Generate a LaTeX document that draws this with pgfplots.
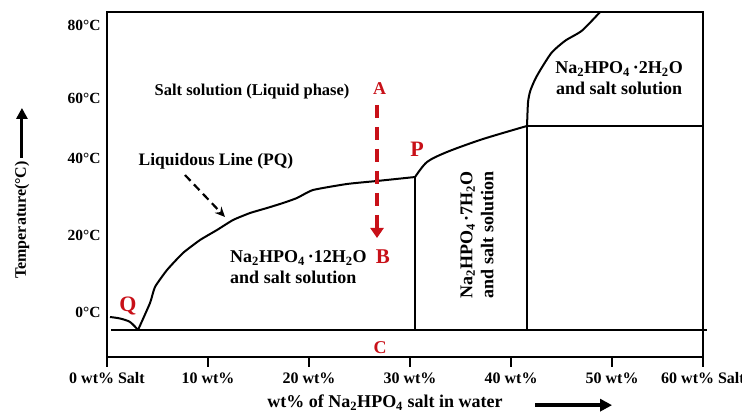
\documentclass[border=0pt]{standalone}
\usepackage{fontspec}
\setmainfont{Liberation Serif}
\usepackage{pgfplots}
\pgfplotsset{compat=1.18}
\usetikzlibrary{arrows.meta}
\definecolor{myred}{RGB}{200,16,24}
\newcommand{\fs}[1]{\fontsize{#1}{#1}\selectfont\bfseries}
\newcommand{\sub}[1]{\textsubscript{#1}}
\begin{document}
\begin{tikzpicture}
\path[use as bounding box] (-107pt,-55pt) rectangle (635pt,357pt);
\begin{axis}[
  scale only axis, width=596pt, height=345pt,
  xmin=0, xmax=59, ymin=-11.69, ymax=77.92,
  clip=false,
  axis line style={line width=2.2pt},
  /pgf/number format/assume math mode=true,
  cycle list={{black,solid,mark=none}},
  xtick={0,10,20,30,40,50,59},
  xticklabels={0 wt\% Salt,10 wt\%,20 wt\%,30 wt\%,40 wt\%,50 wt\%,60 wt\% Salt},
  xtick pos=bottom, tick align=outside,
  major tick length=10pt,
  xtick style={line width=2.2pt, black},
  xticklabel style={font=\fs{16}, yshift=-2pt},
  ytick={0,20,40,55.58,74.55},
  yticklabels={0°C,20°C,40°C,60°C,80°C},
  ytick style={draw opacity=0},
  yticklabel style={font=\fs{15.5}, xshift=7pt},
  every axis plot/.append style={line width=2pt},
]
% eutectic line
\addplot coordinates {(0.4,-4.68) (59.41,-4.68)};
% small curve at left (ice line)
\addplot+[smooth] coordinates {(0.30,-1.30) (1.29,-1.69) (2.28,-2.60) (3.07,-4.68)};
% liquidus PQ
\addplot+[smooth, tension=0.3] coordinates {(3.07,-4.68) (4.26,2.34) (4.75,6.49) (5.94,10.91) (7.52,15.32) (9.21,18.70) (10.89,21.30) (12.48,23.90) (14.16,25.71) (15.84,27.01) (17.43,28.31) (18.81,29.61) (20.40,31.69) (23.76,33.25) (26.73,34.03) (30.50,35.06)};
% 7H2O solubility
\addplot+[smooth] coordinates {(30.50,35.06) (31.68,38.96) (33.66,41.56) (36.93,44.68) (40.20,47.27) (41.58,48.31)};
% 2H2O solubility
\addplot+[smooth, tension=0.4] coordinates {(41.58,48.31) (41.68,54.5) (41.91,57.5) (42.41,60.6) (43.07,63.6) (44.06,67.5) (45.38,70.5) (47.03,73.1) (48.81,77.92)};
% horizontal at transition
\addplot coordinates {(41.58,48.31) (59,48.31)};
% verticals
\addplot coordinates {(30.50,35.06) (30.50,-4.68)};
\addplot coordinates {(41.58,48.31) (41.58,-4.68)};
% red dashed arrow A->B
\addplot[myred, line width=4pt, dash pattern=on 13pt off 9pt, -{Triangle[width=13pt,length=10pt]}] coordinates {(26.73,53.77) (26.73,19.22)};
% black dashed arrow to liquidus
\addplot[black, line width=2.2pt, dash pattern=on 8pt off 5pt, -{Stealth[length=10pt,width=9pt]}] coordinates {(7.72,35.58) (11.68,24.68)};
% labels
\node[myred, font=\fs{18}] at (axis cs:26.98,57.92) {A};
\node[myred, font=\fs{21}] at (axis cs:27.32,14.29) {B};
\node[myred, font=\fs{18}] at (axis cs:27.03,-9.35) {C};
\node[myred, font=\fs{22}] at (axis cs:30.69,42.21) {P};
\node[myred, font=\fs{22}] at (axis cs:2.08,1.6) {Q};
\node[font=\fs{16.5}] at (axis cs:14.36,57.14) {Salt solution (Liquid phase)};
\node[font=\fs{17.5}] at (axis cs:10.79,39.2) {Liquidous Line (PQ)};
\node[font=\fs{18}, align=left, anchor=west, inner sep=0pt] at (axis cs:12.18,11.56) {Na\sub{2}HPO\sub{4}\,·12H\sub{2}O\\[3pt]and salt solution};
\node[font=\fs{18}, align=center, rotate=90] at (axis cs:36.63,20.0) {Na\sub{2}HPO\sub{4}\,·7H\sub{2}O\\[3pt]and salt solution};
\node[font=\fs{18}, align=center] at (axis cs:50.69,60.65) {Na\sub{2}HPO\sub{4}\,·2H\sub{2}O\\[3pt]and salt solution};
% axis titles
\node[font=\fs{16}, rotate=90] at (axis cs:-8.42,23.9) {Temperature(°C)};
\draw[line width=3pt, -{Triangle[width=11pt,length=11pt]}] (axis cs:-8.42,40.0) -- (axis cs:-8.42,53.0);
\node[font=\fs{18}] at (axis cs:27.52,-23.6) {wt\% of Na\sub{2}HPO\sub{4} salt in water};
\draw[line width=3.5pt, -{Triangle[width=12pt,length=12pt]}] (axis cs:42.38,-24.2) -- (axis cs:50.0,-24.2);
\end{axis}
\end{tikzpicture}
\end{document}
